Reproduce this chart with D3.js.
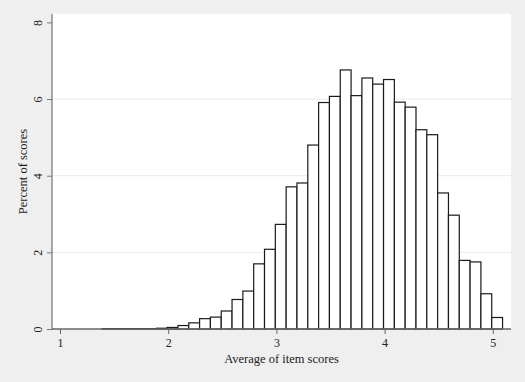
<!DOCTYPE html>
<html>
<head>
<meta charset="utf-8">
<script src="https://cdn.jsdelivr.net/npm/d3@7"></script>
<style>
  html, body { margin: 0; padding: 0; background: #efefef; }
  svg { display: block; }
  .tick-label { font-family: "Liberation Serif", "DejaVu Serif", serif; font-size: 12px; fill: #222; }
  .axis-title { font-family: "Liberation Serif", "DejaVu Serif", serif; font-size: 12.5px; fill: #222; }
</style>
</head>
<body>
<svg id="chart" width="525" height="382"></svg>
<script>
// histogram bins (lower edge of each bin, width 0.1)
const binLower = [1.39, 1.49, 1.59, 1.69, 1.79, 1.89, 1.99, 2.09, 2.19, 2.29,
                  2.39, 2.49, 2.59, 2.69, 2.79, 2.89, 2.99, 3.09, 3.19, 3.29,
                  3.39, 3.49, 3.59, 3.69, 3.79, 3.89, 3.99, 4.09, 4.19, 4.29,
                  4.39, 4.49, 4.59, 4.69, 4.79, 4.89, 4.99];
const binWidth = 0.1;
const percent = [0.01, 0.01, 0.01, 0.01, 0.01, 0.02, 0.04, 0.09, 0.16, 0.27,
                 0.31, 0.47, 0.77, 0.99, 1.70, 2.08, 2.73, 3.71, 3.81, 4.80,
                 5.91, 6.07, 6.76, 6.09, 6.55, 6.39, 6.51, 5.92, 5.79, 5.20,
                 5.07, 3.55, 2.97, 1.79, 1.75, 0.92, 0.30];
const xTicks = [1, 2, 3, 4, 5];
const yTicks = [0, 2, 4, 6, 8];
const yGrid = [2, 4, 6];
const xTitle = 'Average of item scores';
const yTitle = 'Percent of scores';

const svg = d3.select('#chart');
const plot = { left: 52, right: 511, top: 14, bottom: 329 };

const x = d3.scaleLinear().domain([0.926, 5.168]).range([plot.left, plot.right]);
const y = d3.scaleLinear().domain([0, 8.22]).range([plot.bottom, plot.top]);

// plot region
svg.append('rect')
  .attr('x', plot.left).attr('y', plot.top)
  .attr('width', plot.right - plot.left).attr('height', plot.bottom - plot.top)
  .attr('fill', '#ffffff');

// gridlines
svg.append('g').selectAll('line')
  .data(yGrid)
  .enter().append('line')
  .attr('x1', plot.left).attr('x2', plot.right)
  .attr('y1', d => y(d)).attr('y2', d => y(d))
  .attr('stroke', '#eaeaea')
  .attr('stroke-width', 1);

// bars
const bins = binLower.map((lo, i) => ({ lo: lo, hi: lo + binWidth, v: percent[i] }));
svg.append('g').selectAll('rect')
  .data(bins)
  .enter().append('rect')
  .attr('x', d => x(d.lo))
  .attr('y', d => y(d.v))
  .attr('width', d => x(d.hi) - x(d.lo))
  .attr('height', d => y(0) - y(d.v))
  .attr('fill', '#ffffff')
  .attr('stroke', '#1a1a1a')
  .attr('stroke-width', 1.2);

// y axis
const yAxis = d3.axisLeft(y).tickValues(yTicks).tickSize(5).tickFormat(d3.format('d'));
const gy = svg.append('g')
  .attr('transform', `translate(${plot.left},0)`)
  .call(yAxis);
gy.select('.domain').attr('stroke', '#8c8c8c').attr('stroke-width', 1.5)
  .attr('d', `M0,${plot.top}V${plot.bottom}`);
gy.selectAll('.tick line').attr('stroke', '#777');
gy.selectAll('.tick text')
  .attr('class', 'tick-label')
  .attr('x', null).attr('dy', null)
  .attr('text-anchor', 'middle')
  .attr('transform', 'translate(-10,0) rotate(-90)')
  .attr('y', 0);

// x axis
const xAxis = d3.axisBottom(x).tickValues(xTicks).tickSize(5).tickFormat(d3.format('d'));
const gx = svg.append('g')
  .attr('transform', `translate(0,${plot.bottom})`)
  .call(xAxis);
gx.select('.domain').attr('stroke', '#666').attr('stroke-width', 1.5)
  .attr('d', `M${plot.left},0H${plot.right}`);
gx.selectAll('.tick line').attr('stroke', '#666');
gx.selectAll('.tick text')
  .attr('class', 'tick-label')
  .attr('y', 18).attr('dy', null);

// axis titles
svg.append('text')
  .attr('class', 'axis-title')
  .attr('x', (plot.left + plot.right) / 2)
  .attr('y', 363)
  .attr('text-anchor', 'middle')
  .text(xTitle);

svg.append('text')
  .attr('class', 'axis-title')
  .attr('transform', `translate(27,${(plot.top + plot.bottom) / 2}) rotate(-90)`)
  .attr('text-anchor', 'middle')
  .text(yTitle);
</script>
</body>
</html>
